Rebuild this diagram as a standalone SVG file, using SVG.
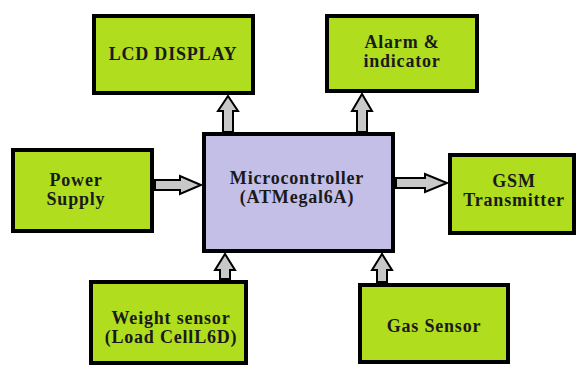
<svg xmlns="http://www.w3.org/2000/svg" width="578" height="371" viewBox="0 0 578 371">
<style>
.box{fill:#B0DE1F;stroke:#000;stroke-width:4}
.mcu{fill:#C3BFE7;stroke:#000;stroke-width:4}
.arr{fill:#C8C8C8;stroke:#000;stroke-width:2;stroke-linejoin:miter}
text{font-family:"Liberation Serif","Times New Roman",serif;font-weight:bold;font-size:18px;fill:#1a1a1a;text-anchor:middle;letter-spacing:0.8px}
</style>
<rect width="578" height="371" fill="#fff"/>
<g id="connectors">
<polygon class="arr" points="223,132 223,111 218,111 228,96 238,111 233,111 233,132"/>
<polygon class="arr" points="357,132 357,111 352,111 362,94 372,111 367,111 367,132"/>
<polygon class="arr" points="155,180 180,180 180,176 201,185 180,194 180,190 155,190"/>
<polygon class="arr" points="396,178 425,178 425,174 447,183 425,192 425,188 396,188"/>
<polygon class="arr" points="220,279 220,270 215,270 225,254 235,270 230,270 230,279"/>
<polygon class="arr" points="377,282 377,270 372,270 382,254 392,270 387,270 387,282"/>
</g>
<g id="lcd"><rect class="box" x="94" y="16" width="159" height="77"/><text x="173" y="60">LCD DISPLAY</text></g>
<g id="alarm"><rect class="box" x="327" y="16" width="150" height="75"/><text x="402" y="48">Alarm &amp;</text><text x="402" y="67">indicator</text></g>
<g id="power"><rect class="box" x="13" y="150" width="139" height="81"/><text x="76" y="186">Power</text><text x="76" y="205">Supply</text></g>
<g id="mcu"><rect class="mcu" x="204" y="134" width="189" height="117"/><text x="297" y="184">Microcontroller</text><text x="297" y="203">(ATMegal6A)</text></g>
<g id="gsm"><rect class="box" x="450" y="155" width="124" height="78"/><text x="514" y="187">GSM</text><text x="514" y="206">Transmitter</text></g>
<g id="weight"><rect class="box" x="91" y="282" width="155" height="81"/><text x="171" y="324">Weight sensor</text><text x="171" y="343">(Load CellL6D)</text></g>
<g id="gas"><rect class="box" x="360" y="285" width="148" height="77"/><text x="434" y="332">Gas Sensor</text></g>
</svg>
